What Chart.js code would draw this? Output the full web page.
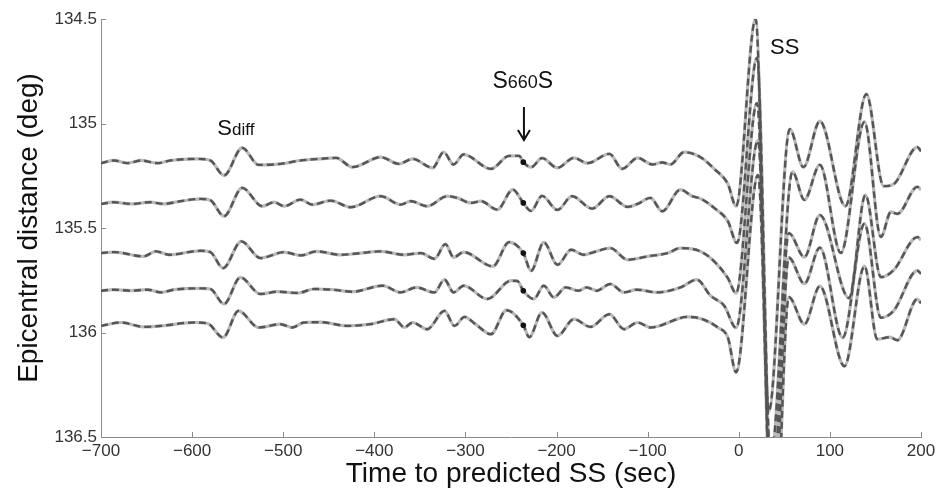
<!DOCTYPE html>
<html><head><meta charset="utf-8">
<script src="https://cdn.jsdelivr.net/npm/chart.js@4.4.1/dist/chart.umd.min.js"></script>
<style>html,body{margin:0;padding:0;background:#fff}#wrap{width:940px;height:503px;position:relative}</style>
</head><body><div id="wrap"><canvas id="c"></canvas></div>
<script>
// Epicentral distance of each trace (deg)
const distances = [135.185, 135.38, 135.62, 135.8, 135.965];
// amplitude units -> degrees of epicentral distance (trace scaling)
const ampScale = 0.5 / 104.5;

// Trace waveforms: time to predicted SS (s) and relative amplitude (up positive)
const t1 = [-700,-686,-671,-656,-638,-624,-594,-580,-565,-545,-527,-503,-481,-460,-442,-424,-393,-373,-358,-336,-324,-313,-302,-272,-252,-241,-236.5,-228,-216,-199,-181,-166,-142,-128,-111,-95,-84,-75,-60,-42,-27,-12,-3,18.5,33,56,71,89,117,140,159,170,196,200];
const a1 = [-1,1.7,-1,1.7,-1,1.7,3.3,1.7,-13.3,14.3,-2.7,-1.7,1.7,3.3,4.3,-5,5,-1.7,3.3,-5.7,10,-2.3,7.7,-6.7,6.3,6.3,0,-5,4,-5.7,4.3,-1,8.3,-6.7,4.3,-2.3,-0.3,-2.3,10,5,-6.7,-21.7,-44,143,-249,33,-5,41,-44,68,-24,-22,15,11];

const t2 = [-700,-686,-667,-646,-631,-613,-591,-580,-565,-545,-523,-510,-499,-481,-468,-448,-426,-393,-371,-360,-342,-320,-309,-294,-283,-265,-248,-236.5,-228,-216,-199,-183,-161,-142,-122,-111,-97,-84,-64,-51,-42,-27,-12,-2,20,35,59,72,89,112,138,156,167,174,196,200];
const a2 = [-1,0.7,-1,0.7,-1,1.7,4,2.7,-13.3,15,-3.3,0.7,-3.3,3.3,-1.7,2.3,-4.3,6.7,-1.7,1.7,-3.3,6.7,5,0,1.7,-6.7,13.3,0,-8,7,-7,6.7,-5.7,6.7,-4,-1,5,-8.3,13.3,6.7,4.3,-5,-18.3,-40,145,-255,31,3,38,-50,81,-34,-9,-11,16,13];

const t3 = [-700,-686,-653,-640,-625,-591,-580,-566,-546,-525,-499,-481,-463,-437,-415,-393,-367,-349,-334,-322,-313,-302,-270,-252,-236.5,-228,-214,-199,-184,-170,-159,-141,-122,-100,-78,-64,-42,-27,-12,-3,20,36,55,72,89,121,139,156,170,196,200];
const a3 = [0,1,-3.3,1.7,-1.7,2.3,1,-15,11.7,-5,1,-2.3,1.7,-1.7,0,1.7,-1.7,0,-5.7,9,-4.3,1,-13.3,11,0,-17.7,10.7,-11.7,3.3,-1.7,1,5,-6.7,-3.3,0,5,1.7,-8.3,-25,-40,150,-255,20,-4,38,-45,58,-24,-17,16,13];

const t4 = [-700,-686,-667,-649,-634,-620,-591,-580,-565,-547,-525,-506,-484,-466,-446,-424,-391,-371,-354,-334,-323,-313,-302,-276,-250,-243,-236.5,-225,-214,-203,-190,-176,-167,-156,-141,-126,-112,-90,-64,-46,-31,-16,-3,21,37,55,72,89,114,138,156,170,196,200];
const a4 = [0,1,0,1,-1.7,1,2.3,1.7,-13.3,13.3,-3.3,-1,-2.3,1.7,1,-1,5,-1.7,3.3,-1.7,11,-1.7,5,-8.3,10,9.7,0,-8.3,5,-6.7,3.3,0,3.3,0,6.7,-1.7,1,-1.7,3.3,11,-5,-15,-37,150,-255,33,7,43,-47,67,-27,-20,20,17];

const t5 = [-700,-678,-653,-634,-598,-583,-566,-549,-527,-503,-490,-477,-459,-430,-404,-378,-367,-358,-342,-323,-312,-301,-289,-272,-255,-236.5,-230,-216,-199,-181,-163,-142,-126,-111,-97,-56,-42,-23,-12,-3,21,38,55,72,89,116,138,152,166,174,196,200];
const a5 = [-0.7,2.7,-1.7,-0.7,2.7,1.7,-12.3,14.3,-2.3,1,-2.3,2.7,3,-0.7,1,6,-2.3,2.7,-4,14.3,-0.7,8.3,1,-9,15,0,-12,12.7,-10.7,6,-1.7,11,-4,2.7,-2.3,8.3,6.7,-2.3,-12.3,-47,150,-255,28,1,39,-41,59,-14,-12,-15,26,22];

// S660S picks (s)
const pickTimes = [-236.5, -236.5, -236.5, -236.5, -236.5];

const xTicks = [-700,-600,-500,-400,-300,-200,-100,0,100,200];
const yTicks = [134.5,135,135.5,136,136.5];

const times = [t1,t2,t3,t4,t5];
const amps = [a1,a2,a3,a4,a5];

const FONT = "'Liberation Sans', Arial, Helvetica, sans-serif";

const datasets = [];
times.forEach((t, i) => {
  const pts = t.map((tv, j) => ({x: tv, y: distances[i] - amps[i][j] * ampScale}));
  datasets.push({data: pts, borderColor: '#b9b9b9', borderWidth: 3.2, pointRadius: 0,
    cubicInterpolationMode: 'monotone', fill: false, order: 3});
  datasets.push({data: pts, borderColor: '#555555', borderWidth: 2.4, borderDash: [7, 4],
    pointRadius: 0, cubicInterpolationMode: 'monotone', fill: false, order: 2});
});
const dots = pickTimes.map((pt, i) => {
  const j = times[i].indexOf(pt);
  return {x: pt, y: distances[i] - amps[i][j] * ampScale};
});
datasets.push({type: 'scatter', data: dots, pointRadius: 2.8, pointBackgroundColor: '#111',
  pointBorderWidth: 0, showLine: false, order: 1});

const labels = [
  {parts: [['S', 22], ['diff', 17]], x: -552, y: 135.055},
  {parts: [['S', 23], ['660', 18], ['S', 23]], x: -237, y: 134.83},
  {parts: [['SS', 22]], x: 50.5, y: 134.667}
];
const arrow = {x: -235.8, y0: 134.921, y1: 135.079};

const deco = {
  id: 'deco',
  afterDraw(chart) {
    const {ctx, chartArea: ca, scales: {x, y}} = chart;
    ctx.save();
    ctx.strokeStyle = '#8a8a8a';
    ctx.lineWidth = 1;
    ctx.beginPath();
    xTicks.forEach(v => {
      const px = Math.round(x.getPixelForValue(v)) + 0.5;
      ctx.moveTo(px, ca.bottom); ctx.lineTo(px, ca.bottom - 5);
    });
    yTicks.forEach(v => {
      const py = Math.round(y.getPixelForValue(v)) + 0.5;
      ctx.moveTo(ca.left, py); ctx.lineTo(ca.left + 5, py);
    });
    ctx.stroke();
    // text labels
    ctx.fillStyle = '#111';
    ctx.textBaseline = 'alphabetic';
    ctx.textAlign = 'left';
    labels.forEach(l => {
      let w = 0;
      l.parts.forEach(p => { ctx.font = p[1] + 'px ' + FONT; w += ctx.measureText(p[0]).width; });
      let cx = x.getPixelForValue(l.x) - w / 2;
      const by = y.getPixelForValue(l.y);
      l.parts.forEach(p => {
        ctx.font = p[1] + 'px ' + FONT;
        ctx.fillText(p[0], cx, by);
        cx += ctx.measureText(p[0]).width;
      });
    });
    // arrow
    const ax = x.getPixelForValue(arrow.x);
    const ay0 = y.getPixelForValue(arrow.y0), ay1 = y.getPixelForValue(arrow.y1);
    ctx.strokeStyle = '#111';
    ctx.lineWidth = 2;
    ctx.beginPath();
    ctx.moveTo(ax, ay0); ctx.lineTo(ax, ay1);
    ctx.moveTo(ax - 6, ay1 - 10); ctx.lineTo(ax, ay1); ctx.lineTo(ax + 6, ay1 - 10);
    ctx.stroke();
    ctx.restore();
  }
};

new Chart(document.getElementById('c'), {
  type: 'line',
  data: {datasets},
  options: {
    responsive: true, maintainAspectRatio: false, animation: false,
    devicePixelRatio: 1,
    layout: {padding: {top: 19, right: 19, left: 0, bottom: 0}},
    plugins: {legend: {display: false}, tooltip: {enabled: false}},
    scales: {
      x: {
        type: 'linear', min: -700, max: 200,
        afterFit(s) { s.height = 66; },
        afterBuildTicks(s) { s.ticks = xTicks.map(v => ({value: v})); },
        grid: {display: true, drawOnChartArea: false, drawTicks: false},
        border: {display: true, color: '#8a8a8a', width: 1},
        ticks: {padding: 4, color: '#333', font: {family: FONT, size: 17}, maxRotation: 0, autoSkip: false,
          callback: v => (v < 0 ? '\u2212' + Math.abs(v) : String(v))},
        title: {display: true, text: 'Time to predicted SS (sec)', color: '#111',
          font: {family: FONT, size: 28}, padding: {top: 0, bottom: 12}}
      },
      y: {
        type: 'linear', min: 134.5, max: 136.5, reverse: true,
        afterFit(s) { s.width = 101; },
        afterBuildTicks(s) { s.ticks = yTicks.map(v => ({value: v})); },
        grid: {display: true, drawOnChartArea: false, drawTicks: false},
        border: {display: true, color: '#8a8a8a', width: 1},
        ticks: {padding: 4, color: '#333', font: {family: FONT, size: 17}, autoSkip: false,
          callback: v => String(v)},
        title: {display: true, text: 'Epicentral distance (deg)', color: '#111',
          font: {family: FONT, size: 28}, padding: {top: 12, bottom: 0}}
      }
    }
  },
  plugins: [deco]
});
</script>
</body></html>
